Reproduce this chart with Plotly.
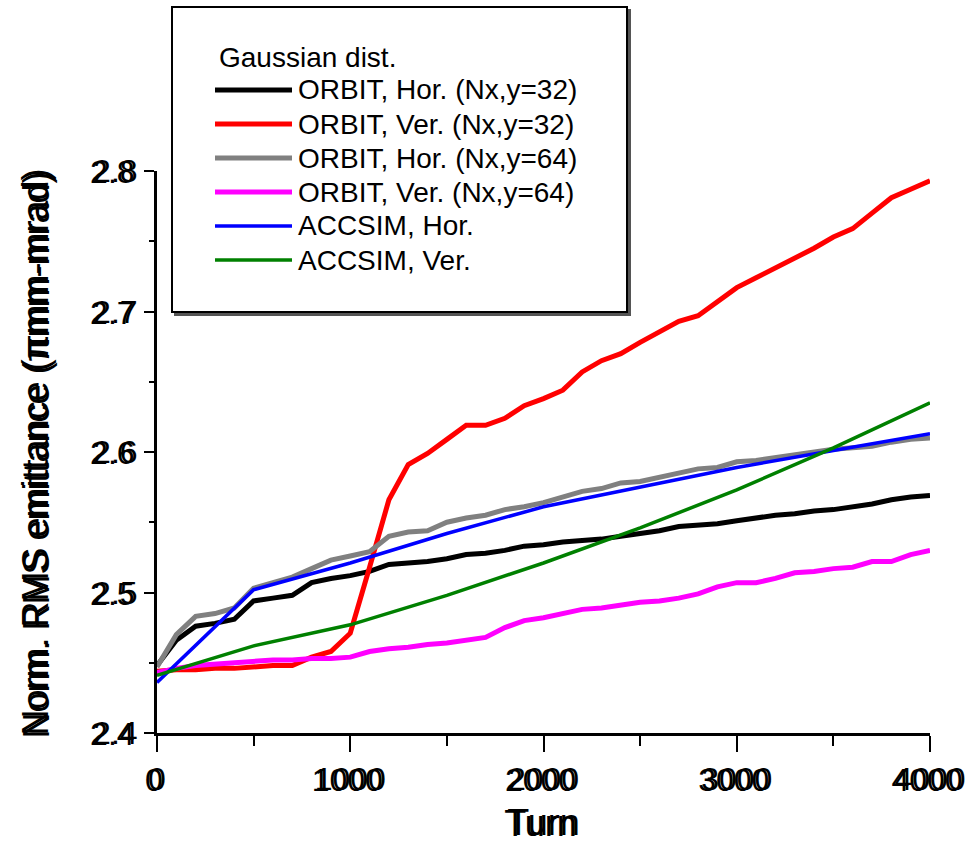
import plotly.graph_objects as go

turns = list(range(0, 4001, 100))
turns_accsim = list(range(0, 4001, 500))

orbit_hor_32 = [2.448, 2.466, 2.476, 2.478, 2.481, 2.494, 2.496, 2.498, 2.507, 2.510,
                2.512, 2.515, 2.520, 2.521, 2.522, 2.524, 2.527, 2.528, 2.530, 2.533,
                2.534, 2.536, 2.537, 2.538, 2.540, 2.542, 2.544, 2.547, 2.548, 2.549,
                2.551, 2.553, 2.555, 2.556, 2.558, 2.559, 2.561, 2.563, 2.566, 2.568, 2.569]
orbit_ver_32 = [2.444, 2.445, 2.445, 2.446, 2.446, 2.447, 2.448, 2.448, 2.454, 2.458,
                2.471, 2.518, 2.566, 2.591, 2.599, 2.609, 2.619, 2.619, 2.624, 2.633,
                2.638, 2.644, 2.657, 2.665, 2.670, 2.678, 2.685, 2.693, 2.697, 2.707,
                2.717, 2.724, 2.731, 2.738, 2.745, 2.753, 2.759, 2.770, 2.781, 2.787, 2.793]
orbit_hor_64 = [2.447, 2.470, 2.483, 2.485, 2.489, 2.503, 2.507, 2.511, 2.517, 2.523,
                2.526, 2.529, 2.540, 2.543, 2.544, 2.550, 2.553, 2.555, 2.559, 2.561,
                2.564, 2.568, 2.572, 2.574, 2.578, 2.579, 2.582, 2.585, 2.588, 2.589,
                2.593, 2.594, 2.596, 2.598, 2.600, 2.602, 2.603, 2.604, 2.607, 2.609, 2.610]
orbit_ver_64 = [2.443, 2.446, 2.448, 2.449, 2.450, 2.451, 2.452, 2.452, 2.453, 2.453,
                2.454, 2.458, 2.460, 2.461, 2.463, 2.464, 2.466, 2.468, 2.475, 2.480,
                2.482, 2.485, 2.488, 2.489, 2.491, 2.493, 2.494, 2.496, 2.499, 2.504,
                2.507, 2.507, 2.510, 2.514, 2.515, 2.517, 2.518, 2.522, 2.522, 2.527, 2.530]
accsim_hor = [2.436, 2.502, 2.521, 2.542, 2.561, 2.575, 2.589, 2.601, 2.613]
accsim_ver = [2.441, 2.462, 2.477, 2.498, 2.521, 2.546, 2.573, 2.603, 2.635]

names = ["ORBIT, Hor. (Nx,y=32)", "ORBIT, Ver. (Nx,y=32)", "ORBIT, Hor. (Nx,y=64)",
         "ORBIT, Ver. (Nx,y=64)", "ACCSIM, Hor.", "ACCSIM, Ver."]
colors = ["#000000", "#ff0000", "#808080", "#ff00ff", "#0000ff", "#008000"]
widths = [5, 5, 5, 5, 3.5, 3.5]
xs = [turns, turns, turns, turns, turns_accsim, turns_accsim]
ys = [orbit_hor_32, orbit_ver_32, orbit_hor_64, orbit_ver_64, accsim_hor, accsim_ver]
legend_title = "Gaussian dist."
x_range = [0, 4000]
y_range = [2.4, 2.8]

FONT = "Liberation Sans, Arial, sans-serif"
TICKSIZE = 32
SHADOW = "-3px 1px 0px black"

fig = go.Figure()
for x, y, n, c, w in zip(xs, ys, names, colors, widths):
    fig.add_trace(go.Scatter(x=x, y=y, mode="lines", name=n,
                             line=dict(color=c, width=w), showlegend=False))

L, R, T, B = 157, 930, 171, 733   # plot area in screen pixels
FW, FH = 970, 844
W, H = R - L, B - T
def px(xp):
    return (xp - L) / W
def py(yp):
    return (B - yp) / H

shapes = []
shapes.append(dict(type="rect", xref="paper", yref="paper",
                   x0=px(175), x1=px(630), y0=py(315), y1=py(10),
                   line=dict(color="#555555", width=2), fillcolor="#555555", layer="above"))
shapes.append(dict(type="rect", xref="paper", yref="paper",
                   x0=px(172), x1=px(627), y0=py(312), y1=py(7),
                   line=dict(color="black", width=2), fillcolor="white", layer="above"))
annotations = []
annotations.append(dict(xref="paper", yref="paper", x=px(217), y=py(57), xanchor="left",
                        yanchor="middle", text=legend_title, showarrow=False,
                        font=dict(family=FONT, size=28, color="black")))
row0, step = 90, 34
for i, (n, c, w) in enumerate(zip(names, colors, widths)):
    yy = row0 + i * step
    shapes.append(dict(type="line", xref="paper", yref="paper",
                       x0=px(215), x1=px(292), y0=py(yy), y1=py(yy),
                       line=dict(color=c, width=w), layer="above"))
    annotations.append(dict(xref="paper", yref="paper", x=px(296), y=py(yy), xanchor="left",
                            yanchor="middle", text=n, showarrow=False,
                            font=dict(family=FONT, size=28, color="black")))

fig.update_layout(
    width=FW, height=FH,
    margin=dict(l=L, r=FW - R, t=T, b=FH - B, pad=0),
    paper_bgcolor="white", plot_bgcolor="white",
    shapes=shapes, annotations=annotations,
    font=dict(family=FONT, color="black"),
    xaxis=dict(range=x_range, dtick=1000, tick0=0, showgrid=False, zeroline=False,
               automargin=False,
               showline=True, linecolor="black", linewidth=3,
               ticks="outside", ticklen=16, tickwidth=2, tickcolor="black",
               minor=dict(dtick=500, ticks="outside", ticklen=10, tickwidth=2, tickcolor="black"),
               tickfont=dict(family=FONT, size=TICKSIZE, color="black", shadow=SHADOW),
               title=dict(text="Turn", font=dict(family=FONT, size=36, color="black",
                                                 shadow=SHADOW), standoff=14)),
    yaxis=dict(range=y_range, dtick=0.1, tick0=2.4, tickformat=".1f", showgrid=False,
               zeroline=False, automargin=False,
               showline=True, linecolor="black", linewidth=3,
               ticks="outside", ticklen=10, tickwidth=2, tickcolor="black",
               minor=dict(dtick=0.05, ticks="outside", ticklen=5, tickwidth=2, tickcolor="black"),
               tickfont=dict(family=FONT, size=TICKSIZE, color="black", shadow=SHADOW),
               title=dict(text="Norm. RMS emittance (\u03c0mm-mrad)",
                          font=dict(family=FONT, size=36, color="black", shadow=SHADOW),
                          standoff=34)),
)

fig.write_html("out.html", config={"displayModeBar": False},
               post_script="document.body.style.margin='0px';")
